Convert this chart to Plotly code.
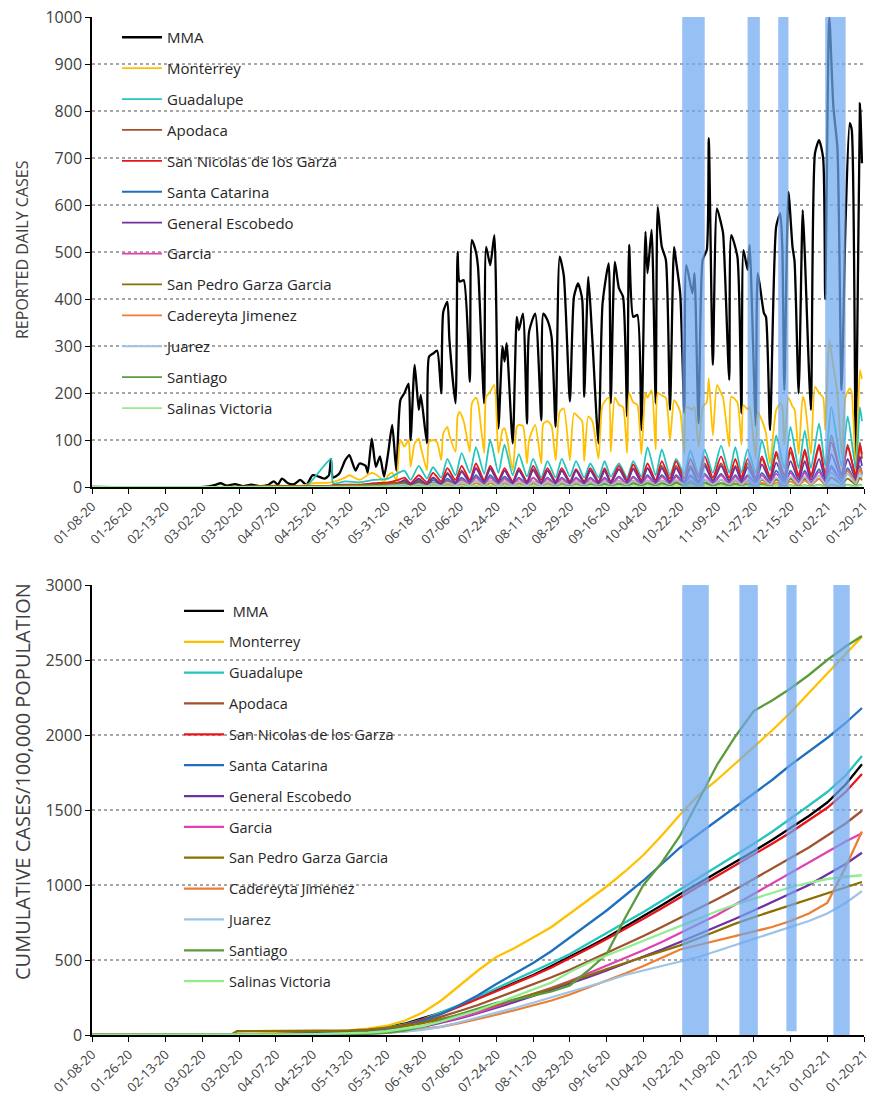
import pandas as pd
import plotly.graph_objects as go

# ---------------- data ----------------
BASE = "2020-01-08"
tick_labels = ["01-08-20", "01-26-20", "02-13-20", "03-02-20", "03-20-20", "04-07-20",
               "04-25-20", "05-13-20", "05-31-20", "06-18-20", "07-06-20", "07-24-20",
               "08-11-20", "08-29-20", "09-16-20", "10-04-20", "10-22-20", "11-09-20",
               "11-27-20", "12-15-20", "01-02-21", "01-20-21"]

names = ["MMA", "Monterrey", "Guadalupe", "Apodaca", "San Nicolas de los Garza",
         "Santa Catarina", "General Escobedo", "Garcia", "San Pedro Garza Garcia",
         "Cadereyta Jimenez", "Juarez", "Santiago", "Salinas Victoria"]
colors = ["#000000", "#FFC000", "#25C4BE", "#A0522D", "#E8141C", "#1F6FBF", "#7030A0",
          "#E040B0", "#8B7000", "#ED7D31", "#9DC3E6", "#5B9B3B", "#90EE90"]

# daily reported cases (day offset from 2020-01-08, value)
mma_daily = [(0, 0), (55, 0), (60, 4), (63, 8), (66, 3), (70, 6), (74, 2), (78, 5), (82, 2), (86, 4),
             (89, 12), (91, 5), (93, 18), (96, 8), (99, 6), (102, 15), (105, 5), (108, 25), (111, 22),
             (114, 18), (116, 25), (117, 60), (118, 20), (121, 28), (124, 57), (126, 68), (129, 35),
             (131, 50), (134, 45), (135, 30), (137, 103), (139, 43), (141, 65), (143, 22), (145, 72),
             (147, 132), (149, 35), (151, 185), (153, 200), (155, 220), (156, 100), (158, 260),
             (160, 164), (161, 196), (164, 93), (165, 277), (167, 284), (169, 290), (171, 199),
             (172, 373), (174, 394), (175, 313), (178, 178), (179, 500), (180, 437), (182, 440),
             (185, 224), (186, 525), (188, 500), (189, 469), (192, 178), (193, 511), (195, 472),
             (197, 536), (199, 125), (201, 299), (202, 267), (203, 306), (206, 93), (208, 362),
             (209, 334), (211, 369), (213, 135), (214, 330), (217, 369), (220, 142), (221, 369),
             (223, 355), (225, 320), (227, 128), (229, 490), (231, 450), (234, 182), (236, 405),
             (238, 433), (240, 400), (241, 192), (243, 447), (245, 313), (248, 93), (250, 391),
             (253, 476), (254, 178), (256, 479), (258, 423), (260, 405), (262, 150), (263, 515),
             (265, 362), (267, 366), (269, 121), (271, 543), (272, 455), (274, 547), (276, 178),
             (277, 596), (279, 511), (281, 483), (283, 164), (285, 511), (286, 480), (288, 412),
             (290, 157), (291, 472), (294, 412), (295, 455), (297, 135), (299, 483), (301, 504),
             (302, 742), (304, 260), (306, 593), (308, 561), (309, 540), (312, 228), (313, 536),
             (316, 490), (318, 157), (319, 504), (321, 462), (322, 515), (325, 130), (326, 455),
             (329, 370), (330, 362), (332, 121), (335, 554), (337, 582), (338, 511), (339, 206),
             (341, 628), (343, 511), (344, 480), (346, 199), (348, 589), (349, 497), (352, 164),
             (354, 710), (356, 738), (358, 700), (359, 400), (361, 1000), (363, 809), (365, 720),
             (367, 206), (369, 568), (371, 774), (372, 760), (374, 43), (376, 816), (377, 689)]

monterrey_daily = [(0, 0), (100, 0), (108, 8), (117, 10), (124, 20), (126, 25), (131, 15), (137, 30),
                   (141, 20), (143, 10), (145, 25), (147, 30), (149, 15), (151, 100), (153, 86),
                   (155, 100), (156, 43), (158, 93), (160, 103), (161, 85), (164, 36), (165, 96),
                   (167, 100), (169, 95), (171, 57), (172, 114), (174, 128), (175, 110), (178, 75),
                   (179, 150), (180, 160), (182, 140), (185, 75), (186, 178), (188, 190), (189, 180),
                   (192, 72), (193, 192), (195, 203), (197, 217), (199, 72), (201, 121), (202, 125),
                   (203, 110), (206, 36), (208, 128), (209, 132), (211, 130), (213, 50), (214, 100),
                   (217, 132), (220, 50), (221, 135), (223, 140), (225, 130), (227, 57), (229, 160),
                   (231, 167), (234, 57), (236, 157), (238, 150), (240, 140), (241, 55), (243, 150),
                   (245, 140), (248, 60), (250, 175), (253, 190), (254, 75), (256, 190), (258, 175),
                   (260, 170), (262, 72), (263, 200), (265, 180), (267, 175), (269, 70), (271, 200),
                   (272, 190), (274, 206), (276, 80), (277, 200), (279, 195), (281, 190), (283, 100),
                   (285, 185), (286, 180), (288, 160), (290, 70), (291, 170), (294, 165), (295, 171),
                   (297, 86), (299, 170), (301, 180), (302, 231), (304, 110), (306, 217), (308, 200),
                   (309, 190), (312, 86), (313, 192), (316, 180), (318, 90), (319, 174), (321, 165),
                   (322, 170), (325, 60), (326, 160), (329, 130), (330, 114), (332, 50), (335, 164),
                   (337, 178), (338, 170), (339, 90), (341, 190), (343, 171), (344, 165), (346, 70),
                   (348, 192), (349, 180), (352, 70), (354, 213), (356, 200), (358, 190), (359, 121),
                   (361, 313), (363, 256), (365, 200), (367, 70), (369, 192), (371, 210), (372, 200),
                   (374, 30), (376, 249), (377, 230)]

# smaller municipalities: early days, weekly peak days, weekly dip days, last days
small_days = ([0, 60, 90, 105, 117, 118, 124, 131, 138, 145, 150] +
              [153, 160, 167, 174, 181, 188, 195, 202, 209, 216, 223, 230, 237, 244, 251, 258,
               265, 272, 279, 286, 293, 300, 308, 315, 321, 328, 335, 342, 349, 356, 362, 370] +
              [156, 164, 171, 178, 185, 192, 199, 206, 213, 220, 227, 234, 241, 248, 254, 262,
               269, 276, 283, 290, 297, 304, 312, 318, 325, 332, 339, 346, 352, 359, 367, 374] +
              [376, 377])

guadalupe_daily = ([0, 0, 1, 3, 60, 8, 12, 10, 15, 18, 30] +
                   [35, 45, 42, 60, 72, 85, 100, 90, 70, 60, 55, 60, 55, 50, 55, 50,
                    55, 85, 80, 60, 78, 80, 88, 85, 80, 100, 110, 128, 120, 135, 170, 150] +
                   [15, 18, 20, 25, 30, 28, 30, 25, 22, 20, 20, 22, 20, 20, 22, 20,
                    22, 25, 25, 28, 25, 30, 30, 30, 30, 35, 40, 40, 40, 45, 45, 40] +
                   [170, 140])
apodaca_daily = ([0, 0, 0, 1, 2, 3, 4, 4, 6, 8, 10] +
                 [12, 15, 20, 30, 35, 40, 38, 35, 35, 35, 35, 35, 35, 35, 35, 38,
                  40, 40, 45, 45, 45, 50, 50, 45, 50, 60, 70, 75, 75, 85, 110, 90] +
                 [5, 6, 8, 10, 12, 12, 12, 10, 10, 10, 10, 10, 10, 10, 10, 12,
                  12, 12, 12, 12, 12, 15, 15, 15, 15, 18, 20, 20, 20, 22, 25, 20] +
                 [95, 60])
san_nicolas_daily = ([0, 0, 0, 1, 3, 4, 5, 5, 8, 10, 15] +
                     [20, 25, 30, 40, 45, 50, 45, 40, 40, 45, 40, 40, 38, 40, 40, 45,
                      48, 50, 55, 55, 60, 65, 65, 60, 60, 65, 75, 85, 80, 90, 95, 85] +
                     [8, 10, 12, 15, 15, 15, 15, 12, 12, 15, 12, 12, 12, 12, 12, 15,
                      15, 15, 18, 18, 20, 20, 20, 20, 20, 22, 25, 25, 25, 28, 28, 25] +
                     [90, 70])
santa_catarina_daily = ([0, 0, 0, 0, 1, 1, 2, 2, 3, 4, 6] +
                        [10, 12, 15, 18, 20, 25, 25, 22, 20, 20, 20, 20, 20, 20, 20, 22,
                         22, 25, 25, 25, 25, 28, 28, 25, 25, 30, 35, 35, 35, 38, 45, 40] +
                        [3, 4, 5, 6, 6, 7, 7, 6, 6, 6, 6, 6, 6, 6, 6, 7,
                         7, 7, 8, 8, 8, 8, 8, 8, 8, 9, 10, 10, 10, 10, 12, 10] +
                        [45, 30])
escobedo_daily = ([0, 0, 0, 0, 1, 2, 3, 3, 5, 6, 8] +
                  [15, 18, 20, 28, 32, 40, 40, 35, 35, 38, 35, 35, 35, 35, 35, 38,
                   38, 40, 40, 40, 40, 45, 45, 42, 42, 48, 52, 55, 55, 60, 70, 60] +
                  [5, 5, 6, 8, 10, 10, 10, 8, 8, 8, 8, 8, 8, 8, 8, 10,
                   10, 10, 10, 10, 10, 12, 12, 12, 12, 14, 15, 15, 15, 16, 18, 15] +
                  [65, 45])
garcia_daily = ([0, 0, 0, 0, 1, 1, 1, 1, 2, 3, 4] +
                [6, 8, 10, 14, 16, 20, 20, 18, 18, 20, 18, 18, 18, 18, 18, 20,
                 20, 22, 22, 22, 22, 25, 25, 22, 22, 25, 28, 30, 30, 32, 40, 35] +
                [2, 2, 3, 4, 5, 5, 5, 4, 4, 4, 4, 4, 4, 4, 4, 5,
                 5, 5, 5, 5, 5, 6, 6, 6, 6, 7, 8, 8, 8, 8, 10, 8] +
                [40, 25])
san_pedro_daily = ([0, 0, 3, 2, 2, 3, 4, 4, 5, 6, 7] +
                   [8, 10, 10, 12, 12, 14, 14, 12, 12, 12, 12, 12, 12, 12, 12, 13,
                    13, 14, 14, 14, 14, 15, 15, 14, 14, 15, 16, 18, 18, 18, 20, 18] +
                   [2, 3, 3, 3, 4, 4, 4, 3, 3, 3, 3, 3, 3, 3, 3, 4,
                    4, 4, 4, 4, 4, 4, 4, 4, 4, 5, 5, 5, 5, 5, 6, 5] +
                   [20, 14])
cadereyta_daily = ([0, 0, 0, 0, 0, 0, 1, 1, 1, 2, 2] +
                   [3, 4, 5, 6, 6, 8, 8, 7, 7, 7, 7, 7, 7, 7, 7, 8,
                    8, 8, 8, 8, 8, 8, 8, 8, 8, 9, 10, 12, 14, 18, 30, 35] +
                   [1, 1, 1, 2, 2, 2, 2, 2, 2, 2, 2, 2, 2, 2, 2, 2,
                    2, 2, 2, 2, 2, 2, 2, 2, 2, 3, 3, 3, 4, 5, 8, 10] +
                   [40, 25])
juarez_daily = ([0, 0, 0, 0, 1, 1, 1, 1, 2, 3, 4] +
                [5, 6, 8, 10, 12, 14, 14, 12, 12, 12, 12, 12, 12, 12, 12, 13,
                 13, 14, 14, 15, 15, 16, 16, 16, 16, 18, 20, 22, 22, 24, 30, 28] +
                [1, 2, 2, 3, 3, 3, 3, 3, 3, 3, 3, 3, 3, 3, 3, 4,
                 4, 4, 4, 4, 4, 5, 5, 5, 5, 5, 6, 6, 6, 7, 8, 7] +
                [30, 20])
santiago_daily = ([0, 0, 0, 0, 0, 0, 0, 0, 1, 1, 1] +
                  [1, 1, 1, 2, 2, 2, 2, 2, 2, 3, 3, 4, 4, 5, 6, 6,
                   8, 8, 8, 10, 12, 10, 8, 6, 5, 5, 4, 4, 4, 5, 5, 5] +
                  [0, 0, 0, 0, 0, 0, 0, 0, 0, 0, 1, 1, 1, 1, 1, 1,
                   2, 2, 2, 2, 2, 2, 2, 1, 1, 1, 1, 1, 1, 1, 1, 1] +
                  [5, 3])
salinas_daily = ([0, 0, 0, 0, 0, 0, 0, 0, 0, 1, 1] +
                 [1, 1, 2, 2, 3, 3, 3, 3, 3, 3, 3, 3, 3, 3, 3, 3,
                  3, 3, 3, 3, 3, 3, 3, 3, 3, 3, 3, 3, 3, 4, 4, 4] +
                 [0, 0, 0, 0, 0, 0, 0, 0, 0, 0, 0, 0, 0, 0, 0, 0,
                  0, 0, 0, 0, 0, 0, 0, 0, 0, 0, 0, 0, 0, 0, 0, 0] +
                 [4, 2])

# cumulative cases per 100,000 population
cum_days = [0, 60, 68, 71, 90, 110, 126, 135, 144, 153, 162, 171, 180, 189, 198, 207, 216, 225,
            234, 243, 252, 261, 270, 279, 288, 297, 306, 315, 324, 333, 342, 351, 360, 369, 377]
cum_mma = [0, 0, 1, 3, 8, 15, 25, 35, 50, 75, 110, 150, 195, 245, 295, 345, 400, 460,
           520, 585, 650, 720, 790, 865, 940, 1010, 1080, 1150, 1225, 1300, 1380, 1460, 1550, 1670, 1805]
cum_monterrey = [0, 0, 2, 4, 10, 18, 30, 42, 60, 95, 150, 230, 330, 430, 520, 580, 650, 720,
                 810, 900, 990, 1090, 1200, 1330, 1470, 1600, 1700, 1810, 1920, 2030, 2150, 2280, 2410, 2540, 2655]
cum_guadalupe = [0, 0, 1, 2, 6, 12, 22, 32, 48, 70, 105, 150, 200, 255, 310, 365, 420, 480,
                 540, 610, 675, 745, 820, 895, 970, 1045, 1120, 1195, 1275, 1355, 1440, 1530, 1620, 1730, 1860]
cum_apodaca = [0, 0, 1, 2, 5, 10, 18, 26, 38, 58, 85, 120, 160, 200, 245, 290, 335, 385,
               435, 490, 545, 600, 660, 720, 780, 840, 905, 970, 1040, 1110, 1180, 1250, 1330, 1410, 1495]
cum_san_nicolas = [0, 0, 1, 2, 5, 10, 18, 28, 42, 65, 100, 140, 190, 240, 290, 340, 395, 450,
                   510, 575, 640, 705, 775, 845, 920, 990, 1060, 1130, 1200, 1275, 1350, 1430, 1515, 1620, 1740]
cum_santa_catarina = [0, 0, 1, 2, 5, 10, 18, 25, 38, 60, 95, 140, 200, 265, 340, 410, 480, 560,
                      650, 740, 830, 930, 1030, 1140, 1250, 1340, 1430, 1520, 1610, 1700, 1800, 1890, 1980, 2080, 2180]
cum_escobedo = [0, 0, 0, 1, 3, 6, 10, 15, 22, 35, 55, 80, 110, 145, 180, 220, 260, 300,
                340, 385, 430, 475, 520, 570, 620, 670, 720, 775, 830, 885, 940, 1000, 1070, 1140, 1215]
cum_garcia = [0, 0, 0, 1, 3, 6, 10, 16, 25, 38, 60, 85, 115, 150, 190, 230, 270, 315,
              360, 410, 460, 510, 565, 620, 680, 740, 800, 870, 940, 1010, 1080, 1150, 1220, 1290, 1345]
cum_san_pedro = [0, 0, 2, 25, 26, 27, 30, 35, 45, 60, 80, 105, 135, 165, 200, 235, 270, 310,
                 355, 400, 440, 480, 520, 560, 598, 645, 695, 742, 785, 825, 865, 905, 945, 985, 1020]
cum_cadereyta = [0, 0, 0, 0, 1, 3, 6, 10, 16, 25, 38, 55, 80, 105, 135, 165, 195, 230,
                 270, 315, 360, 410, 460, 515, 570, 600, 630, 660, 690, 720, 760, 810, 880, 1120, 1357]
cum_juarez = [0, 0, 0, 0, 1, 2, 5, 8, 13, 22, 35, 55, 85, 115, 150, 180, 215, 250,
              285, 320, 360, 400, 430, 460, 490, 520, 560, 600, 640, 680, 720, 760, 810, 880, 959]
cum_santiago = [0, 0, 0, 0, 1, 2, 4, 8, 15, 30, 55, 100, 140, 180, 215, 235, 260, 290,
                330, 430, 540, 780, 1000, 1150, 1330, 1560, 1800, 1990, 2160, 2230, 2310, 2400, 2500, 2590, 2660]
cum_salinas = [0, 0, 0, 1, 3, 6, 10, 16, 25, 40, 60, 90, 125, 165, 210, 255, 300, 350,
               420, 480, 530, 580, 630, 680, 730, 780, 825, 870, 910, 950, 985, 1015, 1040, 1055, 1065]

# highlighted periods (start, end)
bands_daily = [("2020-10-23", "2020-11-03"), ("2020-11-24", "2020-11-30"),
               ("2020-12-09", "2020-12-14"), ("2021-01-01", "2021-01-11")]
bands_cum = [("2020-10-23", "2020-11-05"), ("2020-11-20", "2020-11-29"),
             ("2020-12-13", "2020-12-18"), ("2021-01-05", "2021-01-13")]
bands_cum_bottom = [0, 0, 25, 0]

# ---------------- helpers ----------------
base = pd.Timestamp(BASE)


def to_dates(days):
    return [base + pd.Timedelta(days=int(d)) for d in days]


def sorted_series(days, vals):
    pairs = sorted(zip(days, vals))
    return to_dates([p[0] for p in pairs]), [p[1] for p in pairs]


daily_series = [
    sorted_series([p[0] for p in mma_daily], [p[1] for p in mma_daily]),
    sorted_series([p[0] for p in monterrey_daily], [p[1] for p in monterrey_daily]),
    sorted_series(small_days, guadalupe_daily),
    sorted_series(small_days, apodaca_daily),
    sorted_series(small_days, san_nicolas_daily),
    sorted_series(small_days, santa_catarina_daily),
    sorted_series(small_days, escobedo_daily),
    sorted_series(small_days, garcia_daily),
    sorted_series(small_days, san_pedro_daily),
    sorted_series(small_days, cadereyta_daily),
    sorted_series(small_days, juarez_daily),
    sorted_series(small_days, santiago_daily),
    sorted_series(small_days, salinas_daily),
]
cum_series = [cum_mma, cum_monterrey, cum_guadalupe, cum_apodaca, cum_san_nicolas,
              cum_santa_catarina, cum_escobedo, cum_garcia, cum_san_pedro, cum_cadereyta,
              cum_juarez, cum_santiago, cum_salinas]
cum_x = to_dates(cum_days)

tick_vals = [pd.to_datetime(t, format="%m-%d-%y") for t in tick_labels]

fig = go.Figure()

for i, (nm, col) in enumerate(zip(names, colors)):
    xs, ys = daily_series[i]
    fig.add_trace(go.Scatter(
        x=xs, y=ys, mode="lines", name=nm, xaxis="x", yaxis="y",
        line=dict(color=col, width=2.3 if i == 0 else 1.8, shape="spline", smoothing=0.6),
        legend="legend", legendgroup="t%d" % i, legendrank=i + 1,
        hoverinfo="skip"))

for i, (nm, col) in enumerate(zip(names, colors)):
    fig.add_trace(go.Scatter(
        x=cum_x, y=cum_series[i], mode="lines", name=(" " + nm) if i == 0 else nm,
        xaxis="x2", yaxis="y2",
        line=dict(color=col, width=2.3),
        legend="legend2", legendgroup="b%d" % i, legendrank=i + 1,
        hoverinfo="skip"))

band_fill = "#6FA8F0"
for s, e in bands_daily:
    fig.add_shape(type="rect", xref="x", yref="y", x0=s, x1=e, y0=0, y1=1000,
                  fillcolor=band_fill, opacity=0.72, line=dict(width=0), layer="above")
for (s, e), b in zip(bands_cum, bands_cum_bottom):
    fig.add_shape(type="rect", xref="x2", yref="y2", x0=s, x1=e, y0=b, y1=3000,
                  fillcolor=band_fill, opacity=0.72, line=dict(width=0), layer="above")

FONT = "Open Sans"
tick_font = dict(family=FONT, size=13, color="#404040")
x_common = dict(
    type="date", range=["2020-01-08", "2021-01-20"], tickmode="array",
    tickvals=tick_vals, ticktext=tick_labels, tickangle=-45, tickfont=tick_font,
    showgrid=False, zeroline=False, showline=True, linecolor="#000000", linewidth=1.5,
    ticks="outside", ticklen=5, tickcolor="#000000", tickwidth=1.2, automargin=False,
    ticklabeloverflow="allow",
)
y_common = dict(
    showgrid=True, gridcolor="#A6A6A6", griddash="dot", gridwidth=1.6,
    zeroline=False, showline=True, linecolor="#000000", linewidth=1.5,
    ticks="outside", ticklen=5, tickcolor="#000000", tickwidth=1.2,
    tickfont=dict(family=FONT, size=16, color="#404040"), automargin=False,
    ticklabeloverflow="allow",
)

# the page body margin is removed after drawing, so layout is in page pixels
W, H = 873, 1103


def px_x(p):
    return p / W


def px_y(p):
    return 1 - p / H


legend_common = dict(
    bgcolor="rgba(0,0,0,0)", borderwidth=0, xanchor="left", yanchor="top",
    itemwidth=40, traceorder="grouped",
)

fig.update_layout(
    width=W, height=H, margin=dict(l=0, r=0, t=0, b=0),
    paper_bgcolor="white", plot_bgcolor="white", showlegend=True,
    xaxis=dict(domain=[px_x(92), px_x(864)], anchor="y", **x_common),
    yaxis=dict(domain=[px_y(487), px_y(17)], anchor="x", range=[0, 1000], dtick=100, **y_common),
    xaxis2=dict(domain=[px_x(92), px_x(864)], anchor="y2", **x_common),
    yaxis2=dict(domain=[px_y(1035), px_y(585)], anchor="x2", range=[0, 3000], dtick=500, **y_common),
    legend=dict(x=px_x(117), y=px_y(21), tracegroupgap=8.4,
                font=dict(family=FONT, size=15, color="#262626"), **legend_common),
    legend2=dict(x=px_x(179), y=px_y(595), tracegroupgap=9,
                 font=dict(family=FONT, size=14.5, color="#262626"), **legend_common),
    annotations=[
        dict(text="REPORTED DAILY CASES", textangle=-90, xref="paper", yref="paper",
             x=px_x(22), y=px_y(250), xanchor="center", yanchor="middle", showarrow=False,
             font=dict(family=FONT, size=16, color="#404040")),
        dict(text="CUMULATIVE CASES/100,000 POPULATION", textangle=-90, xref="paper", yref="paper",
             x=px_x(22), y=px_y(782), xanchor="center", yanchor="middle", showarrow=False,
             font=dict(family=FONT, size=20, color="#404040")),
    ],
)

fig.write_html("out.html", config={"displayModeBar": False},
               post_script="document.body.style.margin='0px';")
